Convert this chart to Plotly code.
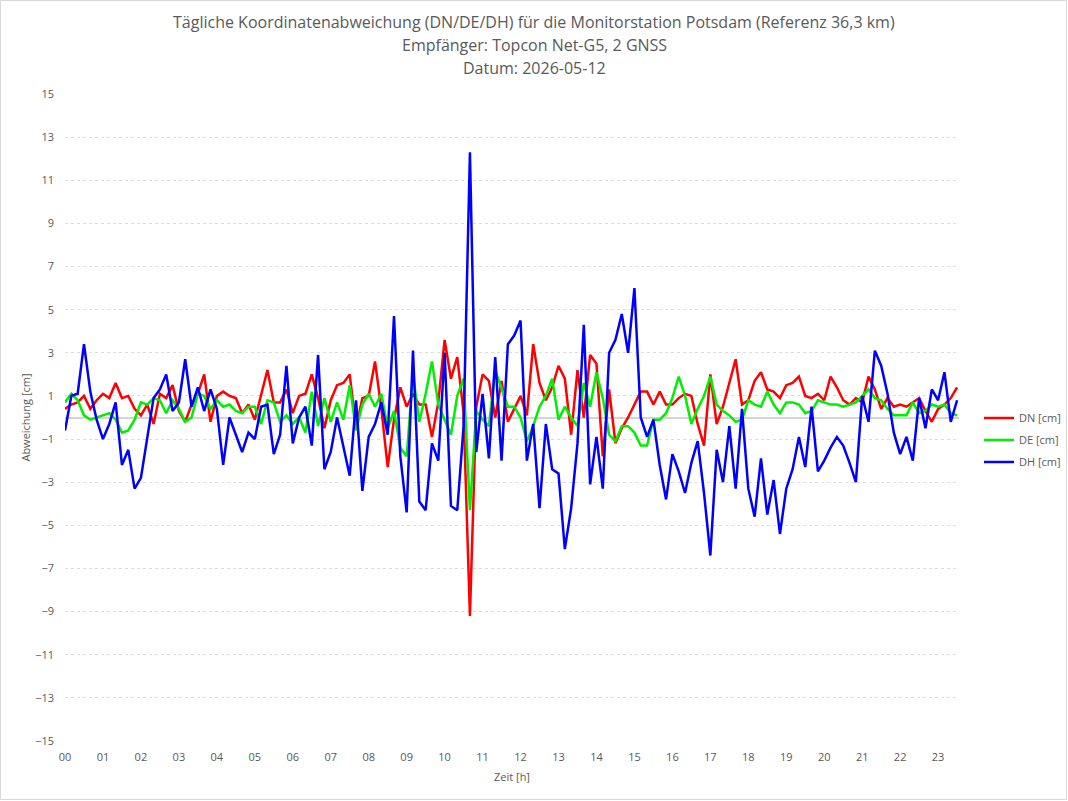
import plotly.graph_objects as go

# time step: 10 minutes, hours from 00:00
n_points = 142
hours = [i / 6 for i in range(n_points)]

hour_ticks = list(range(24))
hour_labels = [f"{h:02d}" for h in hour_ticks]
y_ticks = list(range(-15, 16, 2))

title_lines = ["Tägliche Koordinatenabweichung (DN/DE/DH) für die Monitorstation Potsdam (Referenz 36,3 km)",
               "Empfänger: Topcon Net-G5, 2 GNSS",
               "Datum: 2026-05-12"]

dn = [0.4, 0.6, 0.7, 1.0, 0.4, 0.8, 1.1, 0.9, 1.6, 0.9, 1.0, 0.4, 0.1, 0.6, -0.3, 1.1, 0.9, 1.5, 0.3, -0.2, 0.6, 1.1, 2.0, -0.2,
      1.0, 1.2, 1.0, 0.9, 0.2, 0.6, -0.1, 1.1, 2.2, 0.7, 0.7, 1.3, 0.2, 1.0, 1.1, 2.0, 0.9, -0.5, 0.8, 1.5, 1.6, 2.0,
      -0.5, 0.9, 1.0, 2.6, 0.4, -2.3, -0.1, 1.4, 0.5, 1.1, 0.6, 0.6, -0.9, 0.7, 3.6, 1.8, 2.8, 0.2, -9.2, 0.5, 2.0, 1.7,
      0.0, 1.7, -0.2, 0.4, 1.0, 0.1, 3.4, 1.6, 0.8, 1.4, 2.4, 1.8, -0.8, 2.2, 0.0, 2.9, 2.5, -1.8, 1.3, -1.2, -0.5, 0.0, 0.6,
      1.2,
      1.2, 0.6, 1.2, 0.6, 0.6, 0.9, 1.1, 1.0, -0.3, -1.3, 2.0, -0.3, 0.5, 1.6, 2.7, 0.6, 0.8, 1.7, 2.1, 1.3, 1.2, 0.9,
      1.5, 1.6, 1.9, 1.0, 0.9, 1.1, 0.8, 1.9, 1.4, 0.8, 0.6, 0.9, 0.7, 1.9, 1.3, 0.4, 0.9, 0.5, 0.6, 0.5, 0.7, 0.9, 0.3, -0.2, 0.4, 0.6, 0.9, 1.4]

de = [0.7, 1.1, 0.8, 0.1, -0.1, 0.0, 0.1, 0.2, -0.1, -0.7, -0.6, -0.1, 0.7, 0.6, 0.9, 0.8, 0.2, 0.8, 0.4, -0.2, 0.0, 1.1, 1.0, 0.4,
      0.8, 0.5, 0.6, 0.3, 0.2, 0.5, 0.5, -0.3, 0.8, 0.7, -0.2, 0.1, -0.3, 0.0, -0.7, 1.2, -0.4, 0.9, -0.2, 0.7, -0.1, 1.5,
      -0.6, 0.6, 1.1, 0.5, 1.1, -0.5, 0.3, -1.4, -1.8, 2.0, -0.2, 1.1, 2.6, 0.6, -0.1, -0.8, 1.0, 1.8, -4.3, 0.3, -0.1, -0.4,
      2.2, 1.4, 0.5, 0.5, 0.0, -1.1, -0.4, 0.5, 1.0, 1.8, -0.1, 0.5, 0.0, -0.4, 1.6, 0.5, 2.1, 0.9, -0.8, -1.1, -0.4, -0.4, -0.7,
      -1.3,
      -1.3, -0.1, -0.1, 0.2, 0.9, 1.9, 1.0, -0.3, 0.4, 1.0, 1.9, 0.6, 0.3, 0.1, -0.2, -0.1, 0.8, 0.6, 0.5, 1.2, 0.6, 0.2,
      0.7, 0.7, 0.6, 0.2, 0.3, 0.8, 0.7, 0.6, 0.6, 0.5, 0.6, 0.7, 1.0, 1.3, 0.9, 0.8, 0.4, 0.1, 0.1, 0.1, 0.7, 0.2, 0.3, 0.6, 0.5, 0.6, 0.2, 0.1]

dh = [-0.6, 1.0, 1.1, 3.4, 1.2, -0.1, -1.0, -0.3, 0.7, -2.2, -1.5, -3.3, -2.8, -1.0, 0.9, 1.3, 2.0, 0.3, 0.7, 2.7, 0.5, 1.4, 0.3, 1.3,
      0.4, -2.2, 0.0, -0.8, -1.6, -0.7, -1.0, 0.5, 0.6, -1.7, -0.8, 2.4, -1.2, 0.0, 0.5, -1.3, 2.9, -2.4, -1.6, 0.0, -1.3, -2.7,
      0.8, -3.4, -0.9, -0.3, 0.7, -0.8, 4.7, -1.8, -4.4, 3.1, -3.9, -4.3, -1.2, -2.0, 3.0, -4.1, -4.3, -0.4, 12.3, -1.6, 1.1, -1.9,
      2.8, -2.0, 3.4, 3.8, 4.5, -2.0, -0.3, -4.2, -0.3, -2.4, -2.6, -6.1, -4.2, -1.2, 4.3, -3.1, -0.9, -3.3, 3.0, 3.6, 4.8, 3.0, 6.0,
      0.0,
      -0.9, -0.1, -2.2, -3.8, -1.7, -2.5, -3.5, -2.1, -1.1, -3.5, -6.4, -1.5, -3.0, -0.4, -3.3, 0.4, -3.3, -4.6, -1.9, -4.5, -2.9, -5.4,
      -3.3, -2.4, -0.9, -2.3, 0.5, -2.5, -2.0, -1.4, -0.9, -1.3, -2.1, -3.0, 1.0, -0.2, 3.1, 2.4, 1.1, -0.7, -1.7, -0.9, -2.0, 0.9, -0.5, 1.3, 0.8, 2.1, -0.2, 0.8]

series = [("DN [cm]", dn, "#ff0000"), ("DE [cm]", de, "#00ee00"), ("DH [cm]", dh, "#0000ff")]

W, H = 1068, 801
ML, MR, MT, MB = 65, 109, 94, 60
text_col = "#595959"
pw = W - ML - MR
ph = H - MT - MB

fig = go.Figure()
for name, vals, col in series:
    fig.add_trace(go.Scatter(x=hours, y=vals, mode="lines", name=name, legendgroup=name,
                             line=dict(color=col, width=2.5)))

fig.add_shape(type="rect", xref="paper", yref="paper",
              x0=-(ML - 0.5) / pw, x1=1 + (MR - 1.5) / pw,
              y0=-(MB - 1.5) / ph, y1=1 + (MT - 0.5) / ph,
              line=dict(color="#d9d9d9", width=1), fillcolor="rgba(0,0,0,0)", layer="below")

# title lines as centred annotations (pixel centres 22, 45, 68 from top)
for i, line in enumerate(title_lines):
    ypix = 22 + 23 * i
    fig.add_annotation(text=line, xref="paper", yref="paper",
                       x=(W / 2 - ML) / pw, y=1 + (MT - ypix) / ph,
                       xanchor="center", yanchor="middle", showarrow=False,
                       font=dict(family="Open Sans, sans-serif", size=16, color=text_col))

fig.update_layout(
    width=W, height=H,
    margin=dict(l=ML, r=MR, t=MT, b=MB, autoexpand=False),
    paper_bgcolor="white", plot_bgcolor="white",
    font=dict(family="Open Sans, Noto Sans, sans-serif", size=11, color=text_col),
    xaxis=dict(range=[0, 23.55], tickmode="array", tickvals=hour_ticks, ticktext=hour_labels,
               showgrid=False, zeroline=False, showline=False, ticks="",
               ticklabelstandoff=8,
               title=dict(text="Zeit [h]", font=dict(size=11, color=text_col), standoff=10),
               tickfont=dict(size=11, color=text_col)),
    yaxis=dict(range=[-15, 15], tickmode="array", tickvals=y_ticks,
               showgrid=True, gridcolor="#dddddd", griddash="dot", gridwidth=1,
               zeroline=True, zerolinecolor="#d4d4d4", zerolinewidth=1.5,
               showline=False, ticks="", ticklabelstandoff=10,
               title=dict(text="Abweichung [cm]", font=dict(size=11, color=text_col), standoff=2),
               tickfont=dict(size=11, color=text_col)),
    legend=dict(xref="container", x=979 / W, xanchor="left", y=(741 - 440) / ph, yanchor="middle",
                font=dict(size=11, color=text_col), itemwidth=30, tracegroupgap=3,
                bgcolor="rgba(0,0,0,0)"),
    showlegend=True,
)

fig.write_html("out.html")
